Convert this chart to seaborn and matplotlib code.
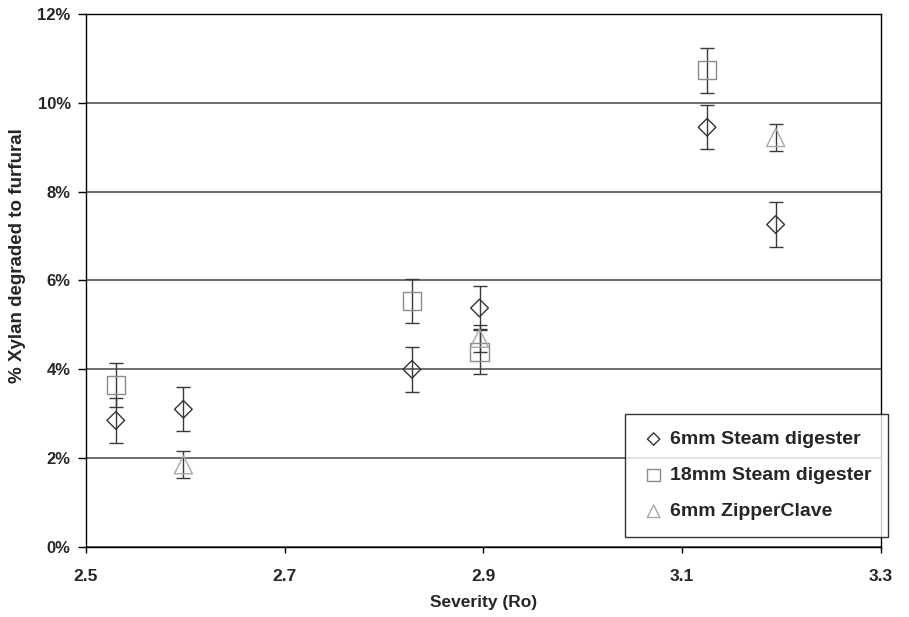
import pandas as pd
import seaborn as sns
import matplotlib
matplotlib.use("Agg")
import matplotlib.pyplot as plt
from matplotlib.ticker import PercentFormatter, FixedLocator, MultipleLocator

# values (% xylan degraded to furfural)
series_names = ["6mm Steam digester", "18mm Steam digester", "6mm ZipperClave"]

diamond_x = [2.53, 2.598, 2.828, 2.896, 3.125, 3.194]
diamond_y = [2.85, 3.10, 4.00, 5.38, 9.45, 7.26]
diamond_err = [0.5, 0.5, 0.5, 0.5, 0.5, 0.5]

square_x = [2.53, 2.828, 2.896, 3.125]
square_y = [3.65, 5.54, 4.40, 10.73]
square_err = [0.5, 0.5, 0.5, 0.5]

triangle_x = [2.598, 2.896, 3.194]
triangle_y = [1.85, 4.70, 9.22]
triangle_err = [0.3, 0.3, 0.3]

x_ticks = [2.5, 2.7, 2.9, 3.1, 3.3]

df = pd.concat([
    pd.DataFrame({"Severity": diamond_x, "Pct": diamond_y, "err": diamond_err, "Series": series_names[0]}),
    pd.DataFrame({"Severity": square_x, "Pct": square_y, "err": square_err, "Series": series_names[1]}),
    pd.DataFrame({"Severity": triangle_x, "Pct": triangle_y, "err": triangle_err, "Series": series_names[2]}),
], ignore_index=True)

sns.set_style("white")
plt.rcParams["font.family"] = ["Liberation Sans", "DejaVu Sans"]
plt.rcParams["font.weight"] = "bold"

fig = plt.figure(figsize=(9.09, 6.17), dpi=100)
ax = fig.add_axes([0.0946, 0.1135, 0.8746, 0.8638])

colors = {series_names[0]: "#333333", series_names[1]: "#8c8c8c", series_names[2]: "#a8a8a8"}
markers = {series_names[0]: "D", series_names[1]: "s", series_names[2]: "^"}
sizes = {series_names[0]: 9, series_names[1]: 13, series_names[2]: 13}

for name in series_names:
    sub = df[df["Series"] == name]
    ax.errorbar(sub["Severity"], sub["Pct"], yerr=sub["err"], fmt="none",
                ecolor="#3a3a3a", elinewidth=1.0, capsize=5, capthick=1.0, zorder=2)

for name in series_names:
    sub = df[df["Series"] == name]
    sns.scatterplot(data=sub, x="Severity", y="Pct", ax=ax, marker=markers[name],
                    s=sizes[name] ** 2, facecolor="none", edgecolor=colors[name],
                    linewidth=1.0, zorder=3, label=name)

ax.set_xlim(2.5, 3.3)
ax.set_ylim(0, 12)
ax.xaxis.set_major_locator(FixedLocator(x_ticks))
ax.yaxis.set_major_locator(MultipleLocator(2))
ax.yaxis.set_major_formatter(PercentFormatter(decimals=0))
ax.xaxis.set_major_formatter(matplotlib.ticker.FormatStrFormatter("%.1f"))
ax.grid(axis="y", color="#555555", linewidth=1.2)
ax.set_axisbelow(True)
for sp in ax.spines.values():
    sp.set_color("black")
    sp.set_linewidth(1.0)
ax.tick_params(axis="x", direction="out", length=4, width=1, color="black",
               labelsize=12.5, pad=12, bottom=True)
ax.tick_params(axis="y", direction="out", length=6, width=1, color="black",
               labelsize=12, pad=5, left=True)
for lab in ax.get_xticklabels() + ax.get_yticklabels():
    lab.set_fontweight("bold")

ax.set_xlabel("Severity (Ro)", fontsize=12.5, fontweight="bold", labelpad=8)
ax.set_ylabel("% Xylan degraded to furfural", fontsize=13.5, fontweight="bold")
ax.yaxis.set_label_coords(-0.076, 0.546)

leg = ax.legend(loc="lower right", bbox_to_anchor=(1.009, 0.019), frameon=True, fancybox=False,
                edgecolor="black", fontsize=14, markerscale=0.7, handletextpad=0.25,
                handlelength=1.2, borderpad=0.85, labelspacing=0.95, borderaxespad=0.0)
leg.get_frame().set_linewidth(1.0)
for t in leg.get_texts():
    t.set_fontweight("bold")

fig.savefig("out.png", dpi=100)
